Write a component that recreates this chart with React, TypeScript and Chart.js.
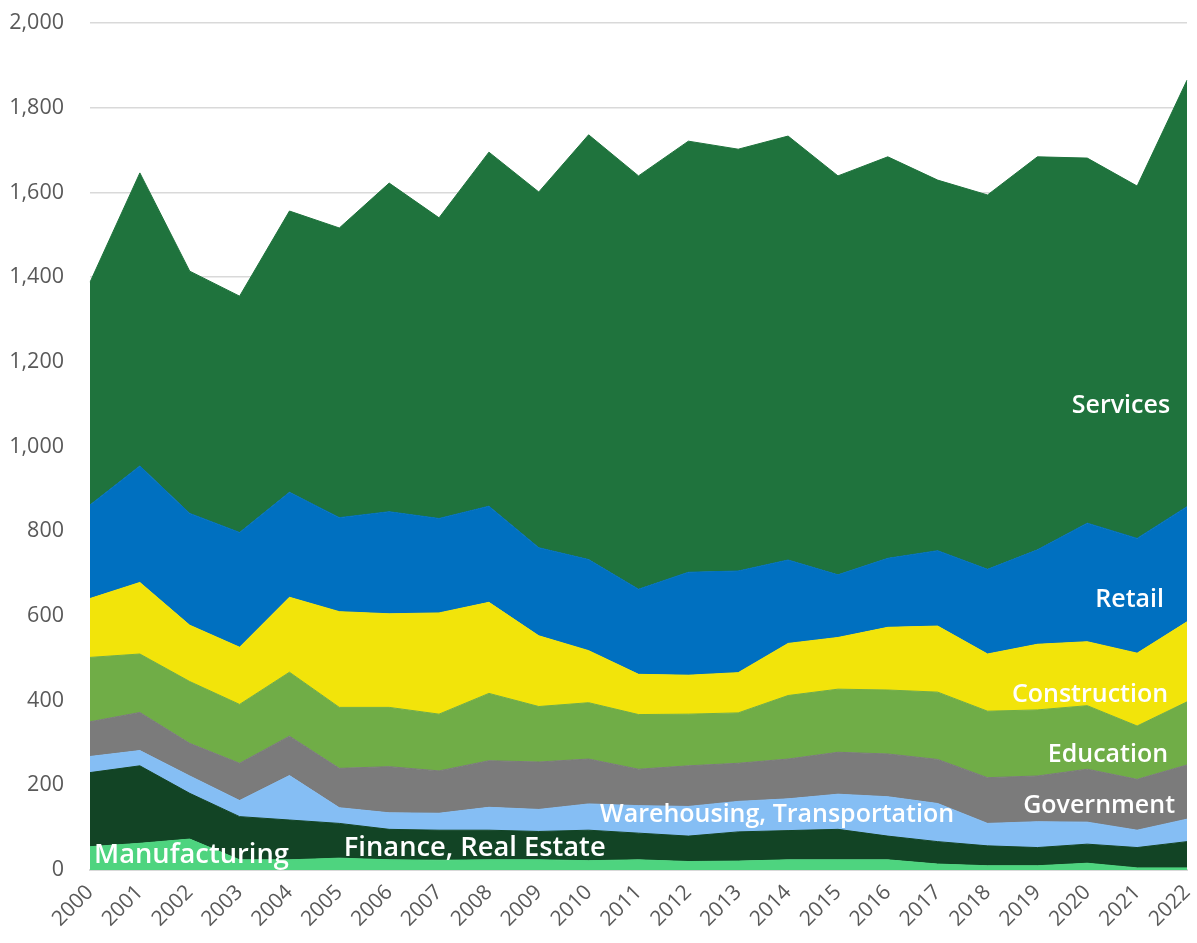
import React, { useEffect, useRef } from "react";
import { Chart, registerables } from "chart.js";

Chart.register(...registerables);

const years = ["2000","2001","2002","2003","2004","2005","2006","2007","2008","2009","2010","2011","2012","2013","2014","2015","2016","2017","2018","2019","2020","2021","2022"];

const manufacturing = [55,63,73,24,24,28,24,23,24,24,22,24,20,21,24,24,24,14,10,10,16,5,5];
const finance = [175,183,108,102,94,82,72,71,70,67,72,63,60,69,69,72,56,53,47,43,45,48,62];
const warehousing = [38,36,41,38,105,37,39,40,54,52,62,65,70,72,75,83,93,90,53,61,52,41,53];
const government = [82,90,77,88,93,93,109,100,110,112,106,86,96,90,94,99,101,104,108,108,125,120,128];
const education = [152,138,146,139,151,144,140,134,159,131,133,129,122,119,150,149,151,159,157,156,150,126,149];
const construction = [139,169,133,135,177,226,221,239,215,167,123,95,92,95,123,122,148,156,135,155,151,172,189];
const retail = [221,275,264,271,248,222,241,223,227,208,215,201,243,240,197,148,163,178,200,223,280,271,272];
const services = [526,692,572,558,664,684,776,710,836,840,1003,976,1018,996,1001,942,948,875,884,928,862,832,1007];

const seriesNames = ["Manufacturing","Finance, Real Estate","Warehousing, Transportation","Government","Education","Construction","Retail","Services"];
const seriesData = [manufacturing, finance, warehousing, government, education, construction, retail, services];
const seriesColors = ["#4ED47F","#124425","#85BEF4","#7B7B7B","#70AD47","#F2E40A","#0070C0","#1F733D"];

// in-chart labels: text, x (category index), y (value), align, font size
const labelTexts = ["Services","Retail","Construction","Education","Government","Warehousing, Transportation","Finance, Real Estate","Manufacturing"];
const labelX = [21.66, 21.54, 21.62, 21.62, 21.76, 10.23, 5.09, 0.08];
const labelY = [1096, 637, 413, 272, 151, 130, 52, 35];
const labelAlign = ["right","right","right","right","right","left","left","left"];
const labelSize = [25, 25, 25, 25, 25, 25, 27.3, 27.3];

const FONT = "'Open Sans', 'Noto Sans', sans-serif";

const labelPlugin = {
  id: "areaLabels",
  afterDatasetsDraw(chart: any) {
    const ctx = chart.ctx;
    const xs = chart.scales.x;
    const ys = chart.scales.y;
    ctx.save();
    ctx.fillStyle = "#FFFFFF";
    ctx.textBaseline = "middle";
    labelTexts.forEach((t, i) => {
      ctx.font = `600 ${labelSize[i]}px ${FONT}`;
      ctx.textAlign = labelAlign[i] as CanvasTextAlign;
      ctx.fillText(t, xs.getPixelForValue(labelX[i]), ys.getPixelForValue(labelY[i]));
    });
    ctx.restore();
  },
};

export default function App() {
  const ref = useRef<HTMLCanvasElement>(null);
  useEffect(() => {
    if (!ref.current) return;
    const chart = new Chart(ref.current, {
      type: "line",
      data: {
        labels: years,
        datasets: seriesData.map((d, i) => ({
          label: seriesNames[i],
          data: d,
          backgroundColor: seriesColors[i],
          borderColor: seriesColors[i],
          borderWidth: 1,
          pointRadius: 0,
          tension: 0,
          fill: i === 0 ? "origin" : "-1",
        })),
      },
      options: {
        animation: false,
        responsive: false,
        maintainAspectRatio: false,
        layout: { padding: { left: 0, right: 10, top: 23, bottom: 0 } },
        plugins: { legend: { display: false }, tooltip: { enabled: false } },
        scales: {
          x: {
            type: "category",
            offset: false,
            grid: { display: false, drawTicks: false },
            border: { display: true, color: "#D9D9D9", width: 2 },
            ticks: {
              color: "#595959",
              font: { family: FONT, size: 21 },
              minRotation: 45,
              maxRotation: 45,
              padding: 10,
              autoSkip: false,
            },
            afterFit: (s: any) => { s.height = 73; s.paddingRight = 0; s.paddingLeft = 0; },
          },
          y: {
            stacked: true,
            min: 0,
            max: 2000,
            grid: { color: "#D9D9D9", lineWidth: 1.5, drawTicks: false },
            border: { display: false },
            ticks: {
              stepSize: 200,
              color: "#595959",
              font: { family: FONT, size: 21.5 },
              padding: 26,
              callback: (v: any) => Number(v).toLocaleString("en-US"),
            },
            afterFit: (s: any) => { s.width = 90; s.paddingTop = 0; s.paddingBottom = 0; },
          },
        },
      },
      plugins: [labelPlugin],
    });
    return () => chart.destroy();
  }, []);
  return (
    <div style={{ position: "fixed", left: 0, top: 0, width: 1197, height: 943, background: "#fff" }}>
      <canvas ref={ref} width={1197} height={943} style={{ width: 1197, height: 943 }} />
    </div>
  );
}
